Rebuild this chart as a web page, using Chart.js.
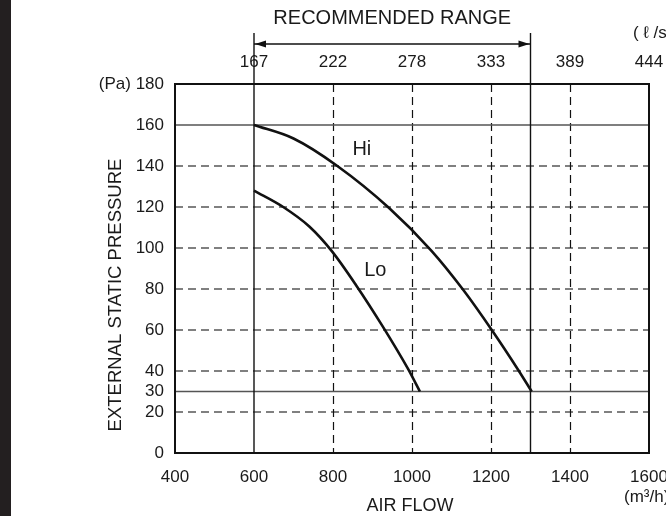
<!DOCTYPE html>
<html>
<head>
<meta charset="utf-8">
<script src="https://cdn.jsdelivr.net/npm/chart.js@4.4.1/dist/chart.umd.min.js"></script>
<style>
  html, body { margin: 0; padding: 0; background: #fff; }
  #fanChart { display: block; }
</style>
</head>
<body>
<canvas id="fanChart" width="666" height="516"></canvas>
<script>
// Fan curve data (air flow in m3/h, pressure in Pa)
const hiFlow = [600, 700, 811, 942, 1050, 1130, 1202, 1269, 1303];
const hiPressure = [160, 153.4, 140, 119.5, 98.5, 79.5, 60, 40.5, 30];
const loFlow = [600, 674, 740, 797, 858, 925, 990, 1020];
const loPressure = [128, 120, 110.5, 98.5, 82, 62, 41, 30];

// Axis ticks
const flowTicks = [400, 600, 800, 1000, 1200, 1400, 1600];
const lpsTicks = [600, 800, 1000, 1200, 1400, 1600];
const lpsLabels = ['167', '222', '278', '333', '389', '444'];
const pressureTicks = [0, 20, 30, 40, 60, 80, 100, 120, 140, 160, 180];

// Reference lines
const dashedPressure = [20, 40, 60, 80, 100, 120, 140];
const solidPressure = [30, 160];
const dashedFlow = [800, 1000, 1200, 1400];
const rangeFlow = [600, 1300];

const FONT = '"Liberation Sans", Arial, Helvetica, sans-serif';

const toPoints = (xs, ys) => xs.map((x, i) => ({ x: x, y: ys[i] }));

const text = (ctx, str, x, y, size, align) => {
  ctx.font = `${size}px ${FONT}`;
  ctx.fillStyle = '#1a1a1a';
  ctx.textAlign = align || 'center';
  ctx.textBaseline = 'middle';
  ctx.fillText(str, x, y);
};

// Grid, recommended range and labels drawn with the chart's own scales
const fanDecor = {
  id: 'fanDecor',
  beforeDraw(chart) {
    const ctx = chart.ctx;
    ctx.save();
    ctx.fillStyle = '#231f20';
    ctx.fillRect(0, 0, 11, chart.height);
    ctx.restore();
  },
  beforeDatasetsDraw(chart) {
    const { ctx, chartArea: a, scales: { x, y } } = chart;
    ctx.save();

    // dashed horizontal lines
    ctx.strokeStyle = '#808080';
    ctx.lineWidth = 2;
    ctx.setLineDash([8, 5]);
    dashedPressure.forEach(v => {
      const py = Math.round(y.getPixelForValue(v));
      ctx.beginPath();
      ctx.moveTo(a.left, py);
      ctx.lineTo(a.right, py);
      ctx.stroke();
    });

    // dashed vertical lines
    ctx.strokeStyle = '#111';
    ctx.lineWidth = 1.2;
    ctx.setLineDash([8, 5]);
    dashedFlow.forEach(v => {
      const px = Math.round(x.getPixelForValue(v)) + 0.5;
      ctx.beginPath();
      ctx.moveTo(px, a.top);
      ctx.lineTo(px, a.bottom);
      ctx.stroke();
    });

    // solid horizontal lines
    ctx.setLineDash([]);
    ctx.strokeStyle = '#555';
    ctx.lineWidth = 1.6;
    solidPressure.forEach(v => {
      const py = y.getPixelForValue(v);
      ctx.beginPath();
      ctx.moveTo(a.left, py);
      ctx.lineTo(a.right, py);
      ctx.stroke();
    });

    // recommended range verticals + arrow
    ctx.strokeStyle = '#111';
    ctx.lineWidth = 1.4;
    const rx = rangeFlow.map(v => x.getPixelForValue(v));
    rx.forEach(px => {
      ctx.beginPath();
      ctx.moveTo(px, 33);
      ctx.lineTo(px, a.bottom);
      ctx.stroke();
    });
    const ay = 44;
    ctx.beginPath();
    ctx.moveTo(rx[0], ay);
    ctx.lineTo(rx[1], ay);
    ctx.stroke();
    ctx.fillStyle = '#111';
    ctx.beginPath();
    ctx.moveTo(rx[0] + 1, ay);
    ctx.lineTo(rx[0] + 12, ay - 3.5);
    ctx.lineTo(rx[0] + 12, ay + 3.5);
    ctx.closePath();
    ctx.fill();
    ctx.beginPath();
    ctx.moveTo(rx[1] - 1, ay);
    ctx.lineTo(rx[1] - 12, ay - 3.5);
    ctx.lineTo(rx[1] - 12, ay + 3.5);
    ctx.closePath();
    ctx.fill();

    ctx.restore();
  },
  afterDraw(chart) {
    const { ctx, chartArea: a, scales: { x, y } } = chart;
    ctx.save();

    // plot frame
    ctx.strokeStyle = '#111';
    ctx.lineWidth = 2;
    ctx.setLineDash([]);
    ctx.strokeRect(a.left, a.top, a.right - a.left, a.bottom - a.top);

    text(ctx, 'RECOMMENDED RANGE', (x.getPixelForValue(rangeFlow[0]) + x.getPixelForValue(rangeFlow[1])) / 2, 18, 20);
    text(ctx, 'Hi', x.getPixelForValue(873), y.getPixelForValue(148), 20);
    text(ctx, 'Lo', x.getPixelForValue(907), y.getPixelForValue(89), 20);
    text(ctx, 'AIR FLOW', 410, 506, 18);
    text(ctx, '( \u2113 /s)', 633, 33, 17, 'left');
    text(ctx, '(m\u00b3/h)', 624, 497, 17, 'left');

    ctx.save();
    ctx.translate(116, 295);
    ctx.rotate(-Math.PI / 2);
    text(ctx, 'EXTERNAL STATIC PRESSURE', 0, 0, 18.5);
    ctx.restore();

    ctx.restore();
  }
};

const curveStyle = {
  showLine: true,
  borderColor: '#111',
  borderWidth: 2.6,
  pointRadius: 0,
  fill: false,
  cubicInterpolationMode: 'monotone'
};

new Chart(document.getElementById('fanChart'), {
  type: 'scatter',
  data: {
    datasets: [
      Object.assign({ label: 'Hi', data: toPoints(hiFlow, hiPressure) }, curveStyle),
      Object.assign({ label: 'Lo', data: toPoints(loFlow, loPressure) }, curveStyle)
    ]
  },
  options: {
    responsive: false,
    animation: false,
    devicePixelRatio: 1,
    layout: { padding: { top: 0, right: 17, bottom: 0, left: 0 } },
    plugins: { legend: { display: false }, tooltip: { enabled: false } },
    scales: {
      x: {
        type: 'linear',
        position: 'bottom',
        min: 400,
        max: 1600,
        grid: { display: false, drawTicks: false },
        border: { display: false },
        afterBuildTicks: s => { s.ticks = flowTicks.map(v => ({ value: v })); },
        afterFit: s => { s.height = 63; s.paddingLeft = 0; s.paddingRight = 0; },
        ticks: {
          padding: 14,
          color: '#1a1a1a',
          font: { family: FONT, size: 17 },
          maxRotation: 0,
          callback: v => String(v)
        }
      },
      x2: {
        type: 'linear',
        position: 'top',
        min: 400,
        max: 1600,
        grid: { display: false, drawTicks: false },
        border: { display: false },
        afterBuildTicks: s => { s.ticks = lpsTicks.map(v => ({ value: v })); },
        afterFit: s => { s.height = 84; s.paddingLeft = 0; s.paddingRight = 0; },
        ticks: {
          padding: 11,
          color: '#1a1a1a',
          font: { family: FONT, size: 17 },
          maxRotation: 0,
          callback: v => lpsLabels[lpsTicks.indexOf(v)]
        }
      },
      y: {
        type: 'linear',
        position: 'left',
        min: 0,
        max: 180,
        grid: { display: false, drawTicks: false },
        border: { display: false },
        afterBuildTicks: s => { s.ticks = pressureTicks.map(v => ({ value: v })); },
        afterFit: s => { s.width = 175; s.paddingTop = 0; s.paddingBottom = 0; },
        ticks: {
          padding: 11,
          color: '#1a1a1a',
          font: { family: FONT, size: 17 },
          callback: v => (v === 180 ? '(Pa) 180' : String(v))
        }
      }
    }
  },
  plugins: [fanDecor]
});
</script>
</body>
</html>
